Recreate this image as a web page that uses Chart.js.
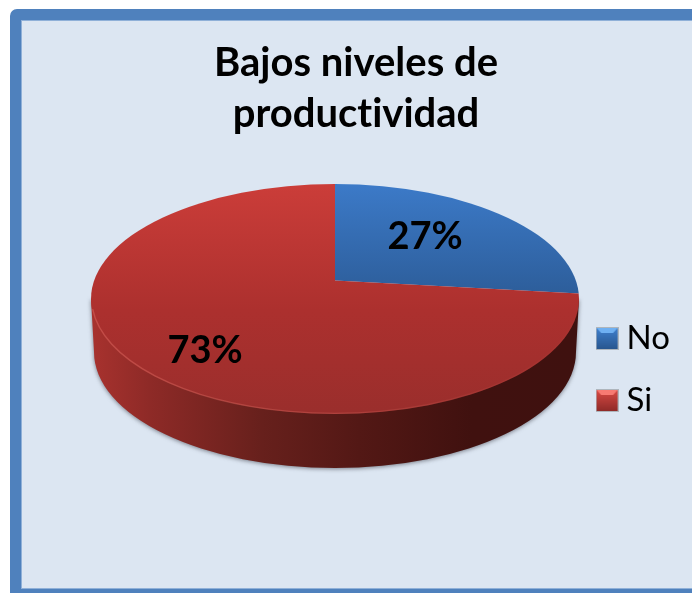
<!DOCTYPE html>
<html lang="es">
<head>
<meta charset="utf-8">
<title>Bajos niveles de productividad</title>
<script src="https://cdn.jsdelivr.net/npm/chart.js@4/dist/chart.umd.min.js"></script>
<style>
html,body{margin:0;padding:0;width:692px;height:593px;overflow:hidden;background:#fff}
#frame{position:absolute;left:10px;top:9px;width:720px;height:591px;box-sizing:border-box;border:11px solid #4f81bd;border-radius:7px;background:#dce6f2;box-shadow:inset 0 0 0 1px #8fb0d8}
#c{position:absolute;left:0;top:0}
</style>
</head>
<body>
<div id="frame"></div>
<canvas id="c" width="692" height="593"></canvas>
<script>
const titleLines = ['Bajos niveles de', 'productividad'];
const categories = ['No', 'Si'];
const values = [27, 73];
const percentLabels = ['27%', '73%'];
const topColors = ['#3c7ac8', '#cb3d39'];
const midColors = ['#2d5e9b', '#ac302e'];
const lowColors = ['#2d5e9b', '#9a2e2c'];

// Projection of the pie's circle onto the tilted disc
const apex = {x: 335, y: 280.5};
const disc = {cx: 335, cy: 299, rx: 244, ry: 115};
const base = {cx: 335, cy: 352, rx: 241, ry: 116};
const squash = 0.42;
const reach = 335;
const labelAnchors = [[425, 236.5], [205, 350.5]];

function toLocalY(chart, Y, R) {
  const a = chart.chartArea;
  const k = reach / R;
  return (a.top + a.bottom) / 2 + (Y - apex.y) / (k * squash);
}
function sliceFill(ctx) {
  const chart = ctx.chart, a = chart.chartArea, i = ctx.dataIndex;
  if (!a || i === undefined) return topColors[i || 0];
  const R = Math.min(a.right - a.left, a.bottom - a.top) / 2;
  const y0 = toLocalY(chart, disc.cy - disc.ry, R), y1 = toLocalY(chart, disc.cy + disc.ry, R);
  const g = chart.ctx.createLinearGradient(0, y0, 0, y1);
  if (i === 0) {
    const yEnd = toLocalY(chart, apex.y + 12, R);
    g.addColorStop(0, topColors[i]);
    g.addColorStop(Math.min(1, (yEnd - y0) / (y1 - y0)), midColors[i]);
    g.addColorStop(1, lowColors[i]);
  } else {
    g.addColorStop(0, topColors[i]);
    g.addColorStop(0.55, midColors[i]);
    g.addColorStop(1, lowColors[i]);
  }
  return g;
}
function legendSwatch(i) {
  const s = 23, c = document.createElement('canvas');
  c.width = s; c.height = s;
  const x = c.getContext('2d');
  x.fillStyle = 'rgba(90,90,90,.35)';
  x.fillRect(0, 0, s, s);
  const g = x.createLinearGradient(0, 1, 0, s - 1);
  g.addColorStop(0, i === 0 ? '#3f7fcc' : '#d84a44');
  g.addColorStop(1, i === 0 ? '#28568f' : '#8f2a28');
  x.fillStyle = g;
  x.fillRect(1, 1, s - 2, s - 2);
  x.fillStyle = i === 0 ? '#6fb0f2' : '#f77a72';
  x.beginPath();
  x.moveTo(1, 1); x.lineTo(s - 1, 1); x.lineTo(s / 2 + 6, 6); x.lineTo(s / 2 - 6, 6); x.closePath();
  x.fill();
  return c;
}
const extrusion = {
  id: 'extrusion',
  beforeDraw(chart) {
    chart.ctx.textRendering = 'optimizeSpeed';
  },
  beforeDatasetsDraw(chart) {
    const ctx = chart.ctx, arc = chart.getDatasetMeta(0).data[0];
    ctx.save();
    const side = ctx.createLinearGradient(disc.cx - disc.rx, 0, disc.cx + disc.rx, 0);
    side.addColorStop(0, '#a8322e');
    side.addColorStop(0.12, '#8e2a27');
    side.addColorStop(0.35, '#67201c');
    side.addColorStop(0.55, '#531815');
    side.addColorStop(0.78, '#40110f');
    side.addColorStop(1, '#3f110f');
    ctx.beginPath();
    ctx.moveTo(disc.cx - disc.rx, disc.cy);
    ctx.lineTo(base.cx - base.rx, base.cy);
    ctx.ellipse(base.cx, base.cy, base.rx, base.ry, 0, Math.PI, 0, true);
    ctx.lineTo(disc.cx + disc.rx, disc.cy);
    ctx.closePath();
    ctx.shadowColor = 'rgba(40,40,50,.55)';
    ctx.shadowBlur = 4;
    ctx.shadowOffsetY = 1;
    ctx.fillStyle = side;
    ctx.fill();
    ctx.restore();

    ctx.save();
    ctx.beginPath();
    ctx.ellipse(disc.cx, disc.cy, disc.rx, disc.ry, 0, 0, Math.PI * 2);
    ctx.clip();
    const k = reach / arc.outerRadius;
    ctx.translate(apex.x, apex.y);
    ctx.scale(k, k * squash);
    ctx.translate(-arc.x, -arc.y);
  },
  afterDatasetsDraw(chart) {
    const ctx = chart.ctx;
    ctx.restore();
    ctx.save();
    ctx.beginPath();
    ctx.ellipse(disc.cx, disc.cy - 0.6, disc.rx - 0.6, disc.ry, 0, Math.PI * 0.06, Math.PI * 0.97);
    const rim = ctx.createLinearGradient(disc.cx - disc.rx, 0, disc.cx + disc.rx, 0);
    rim.addColorStop(0, 'rgba(235,120,110,.4)');
    rim.addColorStop(0.5, 'rgba(225,110,100,.3)');
    rim.addColorStop(1, 'rgba(170,60,55,.15)');
    ctx.strokeStyle = rim;
    ctx.lineWidth = 1.4;
    ctx.stroke();
    ctx.fillStyle = '#000';
    ctx.font = 'bold 38px Lato';
    ctx.textAlign = 'center';
    ctx.textBaseline = 'middle';
    percentLabels.forEach((t, i) => ctx.fillText(t, labelAnchors[i][0], labelAnchors[i][1]));
    ctx.restore();
  }
};
new Chart(document.getElementById('c'), {
  type: 'pie',
  data: {
    labels: categories,
    datasets: [{
      data: values,
      backgroundColor: sliceFill,
      borderWidth: 0
    }]
  },
  plugins: [extrusion],
  options: {
    responsive: false,
    animation: false,
    layout: {padding: {left: 32, right: 12, top: 0, bottom: -146}},
    plugins: {
      tooltip: {enabled: false},
      title: {
        display: true,
        text: titleLines,
        color: '#000',
        font: {family: 'Lato', weight: 'bold', size: 40, lineHeight: 1.275},
        padding: {top: 38, bottom: 10}
      },
      legend: {
        position: 'right',
        labels: {
          color: '#000',
          font: {family: 'Lato', size: 33},
          boxWidth: 6,
          usePointStyle: true,
          padding: 29,
          generateLabels: () => categories.map((t, i) => ({
            text: t,
            index: i,
            datasetIndex: 0,
            pointStyle: legendSwatch(i),
            fillStyle: topColors[i],
            lineWidth: 0,
            fontColor: '#000'
          }))
        }
      }
    }
  }
});
</script>
</body>
</html>
